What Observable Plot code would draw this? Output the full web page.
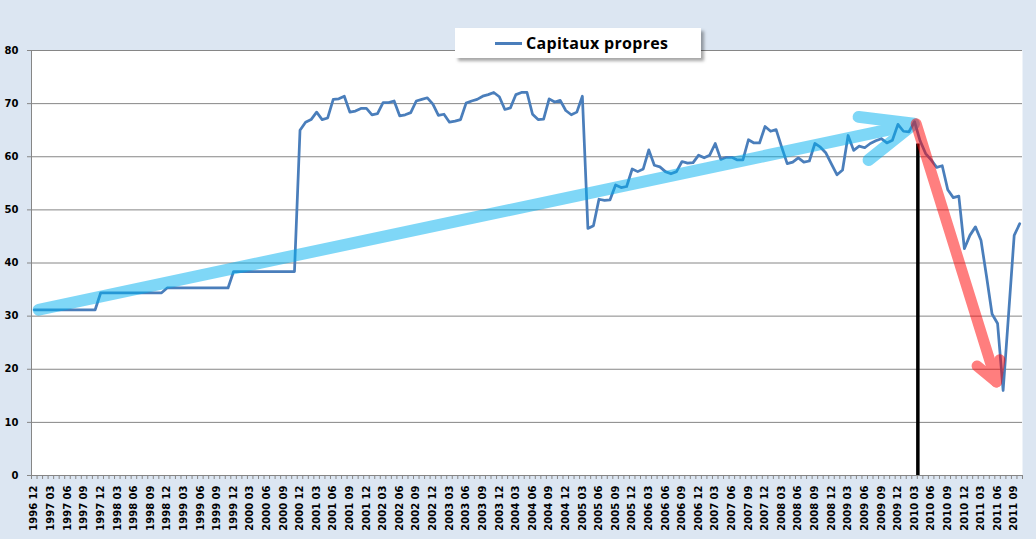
<!DOCTYPE html>
<html>
<head>
<meta charset="utf-8">
<script src="https://cdn.jsdelivr.net/npm/d3@7"></script>
<script src="https://cdn.jsdelivr.net/npm/@observablehq/plot@0.6"></script>
<style>
  html, body { margin: 0; padding: 0; background: #dce6f2; }
  #wrap { position: relative; width: 1036px; height: 539px; background: #dce6f2; overflow: hidden; }
  #legend {
    position: absolute; left: 455px; top: 28px; width: 246px; height: 30px;
    background: #ffffff; box-shadow: 3px 3px 3px rgba(0,0,0,0.35);
    display: flex; align-items: center; box-sizing: border-box; padding-left: 40px;
    font-family: "Open Sans", Lato, sans-serif; font-weight: 700; font-size: 16px; letter-spacing: 0.3px; color: #000;
  }
  #legend .sw { width: 27px; height: 3px; background: #4a7ebb; margin-right: 4px; }
</style>
</head>
<body>
<div id="wrap">
  <div id="chart"></div>
  <div id="legend"><span class="sw"></span><span>Capitaux propres</span></div>
</div>
<script>
// Series: monthly "Capitaux propres", 1996 12 .. 2011 10 (179 months)
const values = [
  31.2,31.2,31.2,31.2,31.2,31.2,31.2,31.2,31.2,31.2,31.2,31.2,
  34.4,34.4,34.4,34.4,34.4,34.4,34.4,34.4,34.4,34.4,34.4,34.4,
  35.3,35.3,35.3,35.3,35.3,35.3,35.3,35.3,35.3,35.3,35.3,35.3,
  38.4,38.4,38.4,38.4,38.4,38.4,38.4,38.4,38.4,38.4,38.4,38.4,
  65.0,66.5,67.0,68.4,67.0,67.3,70.8,70.9,71.4,68.4,68.6,69.1,
  69.1,67.9,68.1,70.2,70.2,70.5,67.7,67.9,68.3,70.5,70.8,71.1,
  69.9,67.8,68.0,66.5,66.7,67.0,70.1,70.5,70.8,71.4,71.7,72.1,
  71.3,68.9,69.2,71.7,72.1,72.1,68.0,67.0,67.1,70.9,70.3,70.6,
  68.7,67.9,68.4,71.4,
  46.5,47.0,52.0,51.8,51.9,54.7,54.2,54.4,57.7,57.2,57.7,61.3,
  58.4,58.1,57.2,56.8,57.2,59.1,58.8,58.9,60.3,59.8,60.3,62.5,
  59.5,59.9,59.9,59.4,59.4,63.2,62.6,62.6,65.7,64.8,65.1,61.8,
  58.7,59.0,59.8,59.0,59.2,62.5,61.8,60.7,58.6,56.6,57.5,64.0,
  61.2,62.0,61.7,62.5,
  63.0,63.4,62.6,63.1,66.1,64.8,64.7,66.6,63.0,60.6,59.4,58.0,
  58.3,53.8,52.3,52.6,42.7,45.2,46.8,44.3,37.5,30.4,28.6,16.0,
  30.5,45.2,47.4
];

// Quarterly tick labels (every 3rd month)
const tickLabels = [
  "1996 12",
  "1997 03","1997 06","1997 09","1997 12",
  "1998 03","1998 06","1998 09","1998 12",
  "1999 03","1999 06","1999 09","1999 12",
  "2000 03","2000 06","2000 09","2000 12",
  "2001 03","2001 06","2001 09","2001 12",
  "2002 03","2002 06","2002 09","2002 12",
  "2003 03","2003 06","2003 09","2003 12",
  "2004 03","2004 06","2004 09","2004 12",
  "2005 03","2005 06","2005 09","2005 12",
  "2006 03","2006 06","2006 09","2006 12",
  "2007 03","2007 06","2007 09","2007 12",
  "2008 03","2008 06","2008 09","2008 12",
  "2009 03","2009 06","2009 09","2009 12",
  "2010 03","2010 06","2010 09","2010 12",
  "2011 03","2011 06","2011 09"
];

const yTicks = [0, 10, 20, 30, 40, 50, 60, 70, 80];

// Annotations (in month-index / value units)
const blueArrow = [
  {part: "shaft", x: 0.8,   y: 31.2},
  {part: "shaft", x: 158.4, y: 66.0},
  {part: "head",  x: 148.9, y: 67.5},
  {part: "head",  x: 158.9, y: 66.2},
  {part: "head",  x: 150.7, y: 59.4}
];
const redArrow = [
  {part: "shaft", x: 159.3, y: 66.2},
  {part: "shaft", x: 173.8, y: 17.6},
  {part: "head",  x: 170.3, y: 20.6},
  {part: "head",  x: 173.8, y: 17.6},
  {part: "head",  x: 174.4, y: 21.8}
];
const marker = [{x: 159.6, y: 62.4}];

const data = values.map((v, i) => ({i, v}));
const nMonths = values.length;
const labelIdx = tickLabels.map((_, k) => k * 3);
const boundaries = d3.range(-0.5, nMonths, 1);

const grid = "#868686";

const chart = Plot.plot({
  width: 1036,
  height: 539,
  marginLeft: 31,
  marginRight: 14,
  marginTop: 50,
  marginBottom: 64,
  style: {fontFamily: "'DejaVu Sans', Verdana, sans-serif", fontSize: "10px", fontWeight: "bold", background: "transparent", color: "black"},
  x: {domain: [-0.5, nMonths - 0.5], axis: null},
  y: {domain: [0, 80], axis: null},
  marks: [
    Plot.frame({fill: "white", stroke: null}),
    Plot.ruleY(yTicks.filter(d => d > 0), {stroke: grid, strokeWidth: 1}),
    Plot.ruleY([0], {stroke: grid, strokeWidth: 1}),
    Plot.ruleX([-0.5], {stroke: grid, strokeWidth: 1}),
    Plot.axisY({ticks: yTicks, tickSize: 4, tickPadding: 9, stroke: grid, fill: "black", label: null}),
    Plot.axisX({ticks: boundaries, tickSize: 4, stroke: grid, fill: "none", label: null}),
    Plot.axisX({ticks: labelIdx, tickSize: 0, tickPadding: 10, tickRotate: -90,
                tickFormat: d => tickLabels[Math.round(d / 3)], fill: "black", label: null}),
    Plot.line(data, {x: "i", y: "v", stroke: "#4a7ebb", strokeWidth: 2.75, strokeLinejoin: "round", strokeLinecap: "round"}),
    Plot.ruleX(marker, {x: "x", y1: 0, y2: "y", stroke: "black", strokeWidth: 3.5}),
    Plot.line(blueArrow, {x: "x", y: "y", z: "part", stroke: "#00b0f0", strokeWidth: 12,
                          strokeLinecap: "round", strokeLinejoin: "round"}),
    Plot.line(redArrow, {x: "x", y: "y", z: "part", stroke: "#ff0000", strokeWidth: 11,
                         strokeLinecap: "round", strokeLinejoin: "round"})
  ]
});

// the two annotation arrows (2nd and 3rd line marks) are drawn half-transparent as whole groups
d3.select(chart).selectAll('g[aria-label="line"]').filter((d, i) => i > 0).attr("opacity", 0.5);
document.getElementById("chart").appendChild(chart);
</script>
</body>
</html>
